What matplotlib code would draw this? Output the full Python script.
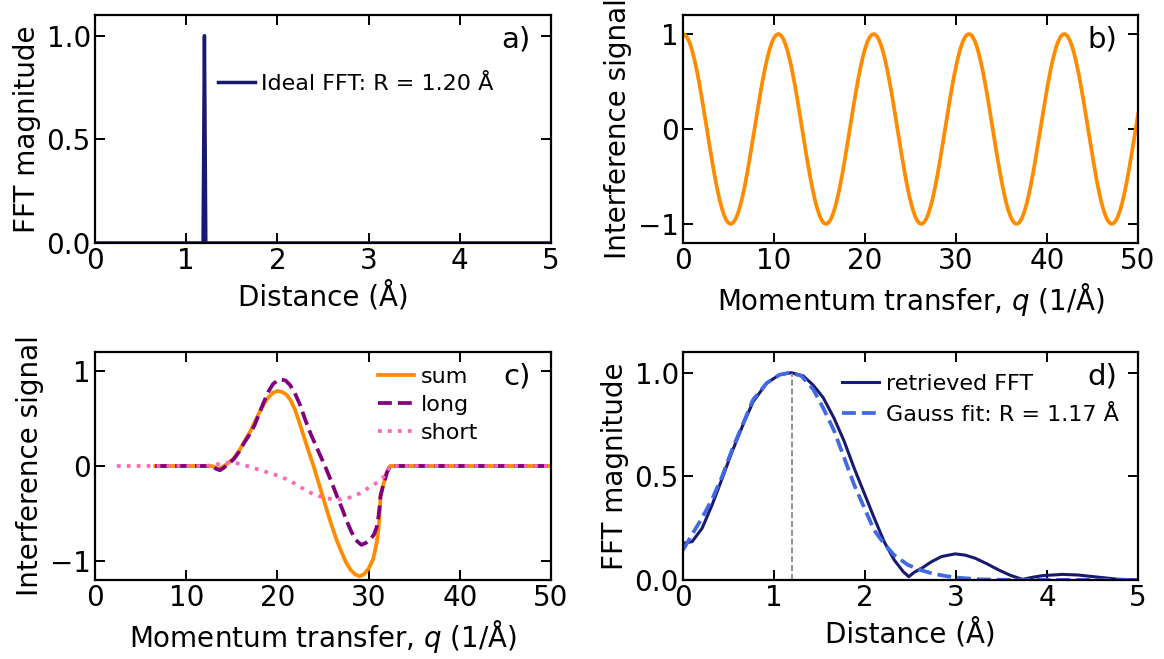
import numpy as np
import matplotlib

matplotlib.use("Agg")
import matplotlib.pyplot as plt

# a) ideal FFT: a single narrow peak at R = 1.20 A
a_distance = [0.0, 1.185, 1.20, 1.215, 5.0]
a_fft = [0.0, 0.0, 1.0, 0.0, 0.0]

# b) ideal interference signal, sampled every 0.25 1/A
b_q = np.linspace(0, 50, 201)
b_signal = [
    1.000, 0.989, 0.955, 0.900, 0.825, 0.732, 0.622, 0.498, 0.362, 0.219,
    0.071, -0.079, -0.227, -0.370, -0.505, -0.628, -0.737, -0.830, -0.904, -0.959,
    -0.990, -1.000, -0.987, -0.953, -0.897, -0.821, -0.726, -0.615, -0.490, -0.355,
    -0.211, -0.062, 0.087, 0.235, 0.378, 0.512, 0.635, 0.743, 0.835, 0.908,
    0.960, 0.991, 1.000, 0.986, 0.951, 0.893, 0.816, 0.720, 0.608, 0.483,
    0.347, 0.203, 0.054, -0.096, -0.244, -0.386, -0.519, -0.641, -0.748, -0.839,
    -0.911, -0.963, -0.992, -1.000, -0.985, -0.948, -0.889, -0.811, -0.714, -0.601,
    -0.476, -0.339, -0.195, -0.046, 0.104, 0.251, 0.393, 0.526, 0.647, 0.754,
    0.844, 0.915, 0.965, 0.993, 0.999, 0.983, 0.945, 0.885, 0.806, 0.708,
    0.594, 0.467, 0.331, 0.186, 0.037, -0.113, -0.260, -0.401, -0.534, -0.654,
    -0.760, -0.848, -0.918, -0.967, -0.995, -0.999, -0.981, -0.942, -0.881, -0.801,
    -0.702, -0.587, -0.461, -0.323, -0.178, -0.029, 0.121, 0.268, 0.410, 0.541,
    0.660, 0.765, 0.853, 0.921, 0.969, 0.995, 0.999, 0.980, 0.939, 0.877,
    0.795, 0.696, 0.581, 0.453, 0.315, 0.169, 0.020, -0.129, -0.277, -0.417,
    -0.548, -0.666, -0.771, -0.857, -0.925, -0.971, -0.996, -0.998, -0.978, -0.936,
    -0.873, -0.791, -0.690, -0.574, -0.446, -0.307, -0.161, -0.012, 0.138, 0.284,
    0.424, 0.554, 0.673, 0.776, 0.862, 0.927, 0.973, 0.997, 0.998, 0.977,
    0.933, 0.869, 0.786, 0.684, 0.569, 0.438, 0.300, 0.153, 0.004, -0.146,
    -0.292, -0.432, -0.561, -0.679, -0.782, -0.866, -0.931, -0.975, -0.997, -0.997,
    -0.975, -0.930, -0.865, -0.781, -0.678, -0.560, -0.431, -0.291, -0.145, 0.005,
    0.154,
]

# c) measured signal split into long and short components
c_sum_q = [6.6, 12.8, 13.3, 13.6, 14.0, 14.6, 15.2, 15.8, 16.4, 17.0, 17.5, 18.0,
           18.5, 19.0, 19.5, 20.0, 20.5, 21.0, 21.4, 21.9, 22.4, 22.9, 23.4, 23.9,
           24.4, 25.0, 25.5, 26.0, 26.5, 27.0, 27.5, 28.0, 28.5, 29.0, 29.5, 30.0,
           30.5, 30.9, 31.1, 31.25, 31.3, 31.6, 32.0, 32.35, 50.0]
c_sum = [0.0, 0.0, -0.02, -0.03, -0.01, 0.03, 0.08, 0.16, 0.26, 0.36, 0.46, 0.56,
         0.65, 0.72, 0.77, 0.79, 0.78, 0.75, 0.70, 0.60, 0.46, 0.31, 0.16, 0.02,
         -0.14, -0.33, -0.49, -0.64, -0.78, -0.90, -1.01, -1.09, -1.14, -1.16, -1.14, -1.08,
         -0.98, -0.80, -0.65, -0.45, -0.32, -0.20, -0.07, 0.0, 0.0]

c_long_q = [6.6, 12.8, 13.3, 13.7, 14.1, 14.6, 15.2, 15.8, 16.4, 17.0, 17.5, 18.0,
            18.5, 19.0, 19.5, 20.0, 20.4, 20.9, 21.4, 21.9, 22.5, 23.0, 23.6, 24.1,
            24.7, 25.3, 25.9, 26.5, 27.1, 27.6, 28.1, 28.6, 29.2, 29.7, 30.2, 30.6,
            30.9, 31.1, 31.25, 31.3, 31.6, 32.0, 32.35, 50.0]
c_long = [0.0, 0.0, -0.03, -0.045, -0.02, 0.02, 0.07, 0.15, 0.25, 0.34, 0.43, 0.55,
          0.67, 0.78, 0.86, 0.90, 0.91, 0.90, 0.85, 0.77, 0.64, 0.50, 0.35, 0.24,
          0.11, -0.02, -0.16, -0.31, -0.45, -0.58, -0.69, -0.78, -0.83, -0.81, -0.77, -0.72,
          -0.64, -0.52, -0.38, -0.32, -0.20, -0.07, 0.0, 0.0]

c_short_q = [2.4, 12.0, 13.0, 14.0, 15.0, 16.0, 17.0, 18.0, 19.0, 20.0, 21.0, 22.0,
             23.0, 24.0, 25.0, 26.0, 27.0, 28.0, 29.0, 30.0, 31.0, 31.6, 32.35, 50.0]
c_short = [0.0, 0.0, 0.01, 0.03, 0.04, 0.02, -0.01, -0.04, -0.07, -0.10, -0.14, -0.19,
           -0.25, -0.30, -0.33, -0.35, -0.35, -0.33, -0.29, -0.23, -0.17, -0.12, 0.0, 0.0]

# d) FFT retrieved from the measured signal and its Gaussian fit
d_ret_distance = [0.00, 0.10, 0.21, 0.32, 0.43, 0.54, 0.66, 0.77, 0.92, 1.06, 1.19, 1.32,
                  1.43, 1.54, 1.66, 1.77, 1.88, 1.99, 2.10, 2.21, 2.32, 2.42, 2.48, 2.54,
                  2.62, 2.73, 2.84, 2.99, 3.10, 3.21, 3.34, 3.47, 3.60, 3.73, 3.84, 3.95,
                  4.17, 4.34, 4.51, 4.77, 5.00]
d_ret_fft = [0.177, 0.185, 0.25, 0.363, 0.49, 0.62, 0.75, 0.86, 0.95, 0.99, 1.00, 0.985,
             0.94, 0.88, 0.78, 0.67, 0.54, 0.42, 0.30, 0.185, 0.097, 0.04, 0.016, 0.037,
             0.056, 0.088, 0.113, 0.126, 0.120, 0.105, 0.078, 0.048, 0.022, 0.003, 0.013, 0.021,
             0.027, 0.024, 0.016, 0.004, 0.0]
d_fit_distance = [0.00, 0.10, 0.21, 0.32, 0.43, 0.54, 0.66, 0.77, 0.92, 1.06, 1.17, 1.30,
                  1.43, 1.54, 1.66, 1.77, 1.88, 1.99, 2.10, 2.21, 2.32, 2.47, 2.61, 2.75,
                  2.90, 3.05, 3.27, 3.50, 5.00]
d_fit_fft = [0.145, 0.22, 0.30, 0.39, 0.50, 0.63, 0.755, 0.87, 0.95, 0.99, 1.00, 0.985,
             0.92, 0.83, 0.72, 0.59, 0.46, 0.35, 0.24, 0.175, 0.12, 0.073, 0.048, 0.030,
             0.018, 0.010, 0.003, 0.001, 0.0]
d_peak = 1.20

plt.rcParams["font.family"] = "DejaVu Sans"
plt.rcParams["axes.linewidth"] = 1.6

fig = plt.figure(figsize=(11.64, 6.59), dpi=100)
ax_a = fig.add_axes([0.0816, 0.6313, 0.3918, 0.346])
ax_b = fig.add_axes([0.5868, 0.6313, 0.3909, 0.346])
ax_c = fig.add_axes([0.0816, 0.1199, 0.3918, 0.346])
ax_d = fig.add_axes([0.5868, 0.1199, 0.3909, 0.346])


def style(ax, tag):
    ax.tick_params(direction="in", top=True, right=True, length=7, width=1.4,
                   labelsize=20, pad=3)
    ax.text(0.955, 0.955, tag, transform=ax.transAxes, ha="right", va="top", fontsize=21)


def legend(ax, anchor, spacing):
    ax.legend(loc="upper left", bbox_to_anchor=anchor, frameon=False, fontsize=16,
              borderpad=0, borderaxespad=0, handlelength=1.65, handletextpad=0.3,
              labelspacing=spacing)


ax_a.plot(a_distance, a_fft, color="midnightblue", lw=2.5, label="Ideal FFT: R = 1.20 Å")
ax_a.set_xlim(0, 5)
ax_a.set_ylim(0, 1.1)
ax_a.set_yticks([0.0, 0.5, 1.0])
ax_a.set_xlabel("Distance (Å)", fontsize=20)
ax_a.set_ylabel("FFT magnitude", fontsize=20)
style(ax_a, "a)")
legend(ax_a, (0.27, 0.742), 0.2)

ax_b.plot(b_q, b_signal, color="darkorange", lw=2.7)
ax_b.set_xlim(0, 50)
ax_b.set_ylim(-1.2, 1.2)
ax_b.set_yticks([-1, 0, 1])
ax_b.set_xlabel("Momentum transfer, $q$ (1/Å)", fontsize=20)
ax_b.set_ylabel("Interference signal", fontsize=20)
style(ax_b, "b)")

ax_c.plot(c_sum_q, c_sum, color="darkorange", lw=2.7, label="sum")
ax_c.plot(c_long_q, c_long, color="purple", lw=2.7, ls="--", label="long")
ax_c.plot(c_short_q, c_short, color="hotpink", lw=2.7, ls=":", label="short")
ax_c.set_xlim(0, 50)
ax_c.set_ylim(-1.2, 1.2)
ax_c.set_yticks([-1, 0, 1])
ax_c.set_xlabel("Momentum transfer, $q$ (1/Å)", fontsize=20)
ax_c.set_ylabel("Interference signal", fontsize=20)
style(ax_c, "c)")
legend(ax_c, (0.62, 0.935), 0.37)

ax_d.plot(d_ret_distance, d_ret_fft, color="midnightblue", lw=2.2, label="retrieved FFT")
ax_d.plot(d_fit_distance, d_fit_fft, color="royalblue", lw=2.7, ls="--",
          label="Gauss fit: R = 1.17 Å")
ax_d.vlines(d_peak, 0, 1.0, colors="grey", linestyles="--", lw=1.2)
ax_d.set_xlim(0, 5)
ax_d.set_ylim(0, 1.1)
ax_d.set_yticks([0.0, 0.5, 1.0])
ax_d.set_xlabel("Distance (Å)", fontsize=20)
ax_d.set_ylabel("FFT magnitude", fontsize=20)
style(ax_d, "d)")
legend(ax_d, (0.35, 0.905), 0.5)

fig.savefig("out.png", dpi=100)
